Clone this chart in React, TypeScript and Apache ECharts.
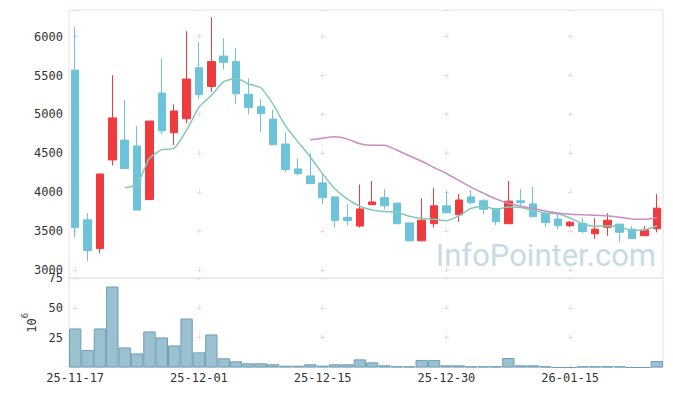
import React, { useEffect, useRef } from 'react';
import * as echarts from 'echarts';

const dates = [
  '25-11-17', '25-11-18', '25-11-19', '25-11-20', '25-11-21', '25-11-24', '25-11-25', '25-11-26', '25-11-27', '25-11-28',
  '25-12-01', '25-12-02', '25-12-03', '25-12-04', '25-12-05', '25-12-08', '25-12-09', '25-12-10', '25-12-11', '25-12-12',
  '25-12-15', '25-12-16', '25-12-17', '25-12-18', '25-12-19', '25-12-22', '25-12-23', '25-12-24', '25-12-26', '25-12-29',
  '25-12-30', '26-01-02', '26-01-05', '26-01-06', '26-01-07', '26-01-08', '26-01-09', '26-01-12', '26-01-13', '26-01-14',
  '26-01-15', '26-01-16', '26-01-19', '26-01-20', '26-01-21', '26-01-22', '26-01-23', '26-01-26',
];

const opens = [
  5570, 3645, 3275, 4415, 4670, 4595, 3905, 5275, 4765, 4945,
  5600, 5360, 5750, 5680, 5260, 5100, 4940, 4620, 4300, 4210,
  4120, 3940, 3675, 3565, 3840, 3930, 3860, 3605, 3375, 3595,
  3825, 3710, 3940, 3890, 3790, 3595, 3890, 3850, 3730, 3655,
  3570, 3600, 3465, 3550, 3590, 3525, 3440, 3530,
];
const closes = [
  3545, 3250, 4235, 4955, 4305, 3770, 4915, 4790, 5045, 5455,
  5255, 5680, 5670, 5265, 5090, 5010, 4610, 4290, 4240, 4110,
  3930, 3635, 3635, 3785, 3875, 3825, 3595, 3375, 3640, 3825,
  3735, 3900, 3865, 3780, 3620, 3885, 3865, 3685, 3610, 3570,
  3615, 3495, 3525, 3640, 3485, 3405, 3515, 3795,
];
const lows = [
  3415, 3115, 3215, 4345, 4305, 3770, 3905, 4745, 4605, 4885,
  5195, 5290, 5580, 5130, 5000, 4770, 4610, 4260, 4215, 4110,
  3850, 3545, 3570, 3545, 3840, 3780, 3595, 3375, 3375, 3545,
  3735, 3620, 3845, 3715, 3575, 3595, 3825, 3685, 3550, 3525,
  3550, 3470, 3400, 3440, 3355, 3405, 3440, 3485,
];
const highs = [
  6120, 3730, 4235, 5505, 5185, 4850, 4915, 5720, 5130, 6070,
  5930, 6250, 5980, 5850, 5465, 5195, 5060, 4770, 4435, 4500,
  4235, 3940, 3845, 4100, 4145, 4040, 3860, 3605, 3920, 4050,
  4010, 3975, 4030, 3910, 3795, 4145, 4040, 4065, 3750, 3730,
  3630, 3665, 3665, 3730, 3590, 3565, 3565, 3975,
];
// trading volume, in millions of shares
const volumes = [
  32.7, 14.6, 32.7, 67.9, 16.8, 11.8, 30.2, 25.2, 18.5, 41.0,
  12.7, 27.7, 7.7, 5.2, 3.5, 3.5, 2.7, 1.5, 1.5, 2.7,
  1.5, 2.7, 2.7, 6.8, 4.3, 1.8, 1.0, 1.0, 6.2, 6.2,
  1.8, 1.8, 1.0, 1.0, 1.0, 7.9, 1.8, 1.8, 1.0, 0,
  0, 1.0, 1.0, 1.0, 1.0, 0, 0, 5.4,
];

const maPeriods = [5, 20];
const maColors = ['#82cab8', '#c98cc4'];
const priceMin = 2897;
const priceMax = 6343;
const priceStep = 500;
const volMax = 75;
const volStep = 25;
const labelEvery = 10;

function movingAverage(values: number[], n: number) {
  return values.map((_, i) => {
    if (i < n - 1) return '-';
    let s = 0;
    for (let k = i - n + 1; k <= i; k++) s += values[k];
    return +(s / n).toFixed(1);
  });
}

const FONT = 'DejaVu Sans Mono';
const GRID_LEFT = 69;
const GRID_RIGHT = 10;
const GRID_W = 673 - GRID_LEFT - GRID_RIGHT;
const P_TOP = 10;
const P_H = 268;
const V_TOP = P_TOP + P_H;
const V_H = 89.5;
const CROSS = 5;
const crossColor = '#e6dce1';
const borderColor = '#ebe0e5';

export default function App() {
  const ref = useRef<HTMLDivElement>(null);
  useEffect(() => {
    if (!ref.current) return;
    const chart = echarts.init(ref.current, null, { renderer: 'svg' });

    const catW = GRID_W / dates.length;
    const periodX = catW * labelEvery;
    const hOffset = periodX - (catW / 2 - CROSS / 2);
    const pxPer = P_H / (priceMax - priceMin);
    const periodY = priceStep * pxPer;
    const topTick = Math.floor(priceMax / priceStep) * priceStep;
    const firstRel = (priceMax - topTick) * pxPer - CROSS / 2;
    const vOffsetP = periodY - (((firstRel % periodY) + periodY) % periodY);
    const periodV = (volStep / volMax) * V_H;

    const hLine = { color: crossColor, width: 1, type: [CROSS, periodX - CROSS], dashOffset: hOffset };
    const vLineP = { color: crossColor, width: 1, type: [CROSS, periodY - CROSS], dashOffset: vOffsetP };
    const vLineV = { color: crossColor, width: 1, type: [CROSS, periodV - CROSS], dashOffset: CROSS / 2 };

    const labelStyle = { fontFamily: FONT, fontSize: 12, color: '#333' };

    chart.setOption({
      animation: false,
      backgroundColor: '#ffffff',
      grid: [
        { left: GRID_LEFT, right: GRID_RIGHT, top: P_TOP, height: P_H, show: true, borderColor, borderWidth: 1, backgroundColor: 'transparent' },
        { left: GRID_LEFT, right: GRID_RIGHT, top: V_TOP, height: V_H, show: true, borderColor, borderWidth: 1, backgroundColor: 'transparent' },
      ],
      graphic: [
        {
          type: 'text',
          right: 17,
          top: 240,
          z: 0,
          silent: true,
          style: {
            text: 'InfoPointer.com',
            fontFamily: 'Roboto',
            fontSize: 31,
            fill: '#c6dbe6',
          },
        },
      ],
      xAxis: [
        {
          type: 'category',
          gridIndex: 0,
          data: dates,
          boundaryGap: true,
          axisLine: { show: false },
          axisTick: { show: false },
          axisLabel: { show: false, interval: labelEvery - 1 },
          splitLine: { show: true, interval: labelEvery - 1, alignWithLabel: true, lineStyle: vLineP },
        },
        {
          type: 'category',
          gridIndex: 1,
          data: dates,
          boundaryGap: true,
          axisLine: { show: true, lineStyle: { color: borderColor } },
          axisTick: { show: false },
          axisLabel: { ...labelStyle, interval: labelEvery - 1, margin: 4 },
          splitLine: { show: true, interval: labelEvery - 1, alignWithLabel: true, lineStyle: vLineV },
        },
      ],
      yAxis: [
        {
          type: 'value',
          gridIndex: 0,
          min: priceMin,
          max: priceMax,
          axisLine: { show: false },
          axisTick: { show: false },
          axisLabel: { ...labelStyle, margin: 6, showMinLabel: false, showMaxLabel: false, formatter: (v: number) => String(v) },
          splitLine: { show: true, lineStyle: hLine },
        },
        {
          type: 'value',
          gridIndex: 1,
          min: 0,
          max: volMax,
          interval: volStep,
          axisLine: { show: false },
          axisTick: { show: false },
          axisLabel: { ...labelStyle, margin: 6, showMinLabel: false, formatter: (v: number) => String(v) },
          splitLine: { show: true, lineStyle: hLine },
          name: '{b|10}{s|6}',
          nameLocation: 'middle',
          nameRotate: 90,
          nameGap: 22,
          nameTextStyle: {
            rich: {
              b: { fontFamily: FONT, fontSize: 12, color: '#333', lineHeight: 17, verticalAlign: 'bottom' },
              s: { fontFamily: FONT, fontSize: 9, color: '#333', lineHeight: 9, verticalAlign: 'top' },
            },
          },
        },
      ],
      series: [
        {
          type: 'candlestick',
          xAxisIndex: 0,
          yAxisIndex: 0,
          barWidth: '65%',
          data: dates.map((_, i) => [opens[i], closes[i], lows[i], highs[i]]),
          itemStyle: {
            color: '#ef3b3e',
            color0: '#6dc3da',
            borderColor: '#ef3b3e',
            borderColor0: '#6dc3da',
            borderWidth: 1,
          },
          z: 3,
        },
        ...maPeriods.map((n, k) => ({
          type: 'line',
          name: 'MA' + n,
          xAxisIndex: 0,
          yAxisIndex: 0,
          data: movingAverage(closes, n),
          smooth: 0.2,
          showSymbol: false,
          symbol: 'none',
          lineStyle: { color: maColors[k], width: 1.5 },
          z: 4,
        })),
        {
          type: 'bar',
          xAxisIndex: 1,
          yAxisIndex: 1,
          data: volumes,
          barCategoryGap: 0,
          itemStyle: { color: '#9bc1d1', borderColor: '#6c9fb7', borderWidth: 1 },
        },
      ],
    });
    return () => chart.dispose();
  }, []);
  return <div ref={ref} style={{ position: 'fixed', left: 0, top: 0, width: 673, height: 396 }} />;
}
